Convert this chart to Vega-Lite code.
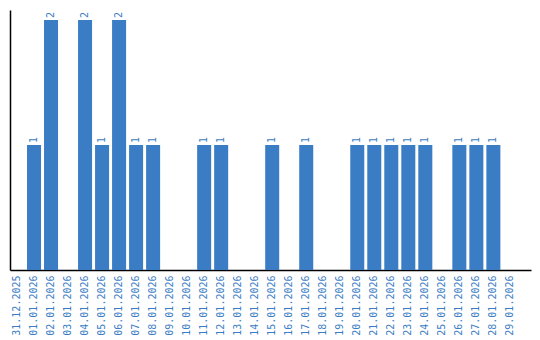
{
  "$schema": "https://vega.github.io/schema/vega-lite/v6.json",
  "width": 521,
  "height": 260,
  "autosize": "none",
  "padding": {"left": 10, "top": 10, "right": 9, "bottom": 70},
  "config": {"view": {"stroke": null}, "axis": {"grid": false}},
  "data": {"values": [
    {"date": "31.12.2025", "count": 0},
    {"date": "01.01.2026", "count": 1},
    {"date": "02.01.2026", "count": 2},
    {"date": "03.01.2026", "count": 0},
    {"date": "04.01.2026", "count": 2},
    {"date": "05.01.2026", "count": 1},
    {"date": "06.01.2026", "count": 2},
    {"date": "07.01.2026", "count": 1},
    {"date": "08.01.2026", "count": 1},
    {"date": "09.01.2026", "count": 0},
    {"date": "10.01.2026", "count": 0},
    {"date": "11.01.2026", "count": 1},
    {"date": "12.01.2026", "count": 1},
    {"date": "13.01.2026", "count": 0},
    {"date": "14.01.2026", "count": 0},
    {"date": "15.01.2026", "count": 1},
    {"date": "16.01.2026", "count": 0},
    {"date": "17.01.2026", "count": 1},
    {"date": "18.01.2026", "count": 0},
    {"date": "19.01.2026", "count": 0},
    {"date": "20.01.2026", "count": 1},
    {"date": "21.01.2026", "count": 1},
    {"date": "22.01.2026", "count": 1},
    {"date": "23.01.2026", "count": 1},
    {"date": "24.01.2026", "count": 1},
    {"date": "25.01.2026", "count": 0},
    {"date": "26.01.2026", "count": 1},
    {"date": "27.01.2026", "count": 1},
    {"date": "28.01.2026", "count": 1},
    {"date": "29.01.2026", "count": 0}
  ]},
  "encoding": {
    "x": {
      "field": "date", "type": "nominal", "sort": null,
      "scale": {"paddingInner": 0.176, "paddingOuter": 0.4, "align": 0},
      "axis": {
        "title": null, "ticks": false, "labelAngle": -90, "labelPadding": 5,
        "labelColor": "#3b7dc4", "labelFont": "DejaVu Sans Mono", "labelFontSize": 10,
        "domainColor": "#000000", "domainWidth": 1.5, "labelAlign": "right", "labelBaseline": "middle"
      }
    },
    "y": {
      "field": "count", "type": "quantitative",
      "scale": {"domain": [0, 2.08], "nice": false},
      "axis": {"title": null, "ticks": false, "labels": false, "domainColor": "#000000", "domainWidth": 1.5}
    }
  },
  "layer": [
    {"mark": {"type": "bar", "color": "#3b7dc4"}},
    {
      "transform": [{"filter": "datum.count > 0"}],
      "mark": {"type": "text", "angle": -90, "align": "left", "baseline": "middle", "dx": 2, "color": "#3b7dc4", "font": "DejaVu Sans Mono", "fontSize": 10},
      "encoding": {"text": {"field": "count", "type": "quantitative"}}
    }
  ]
}
